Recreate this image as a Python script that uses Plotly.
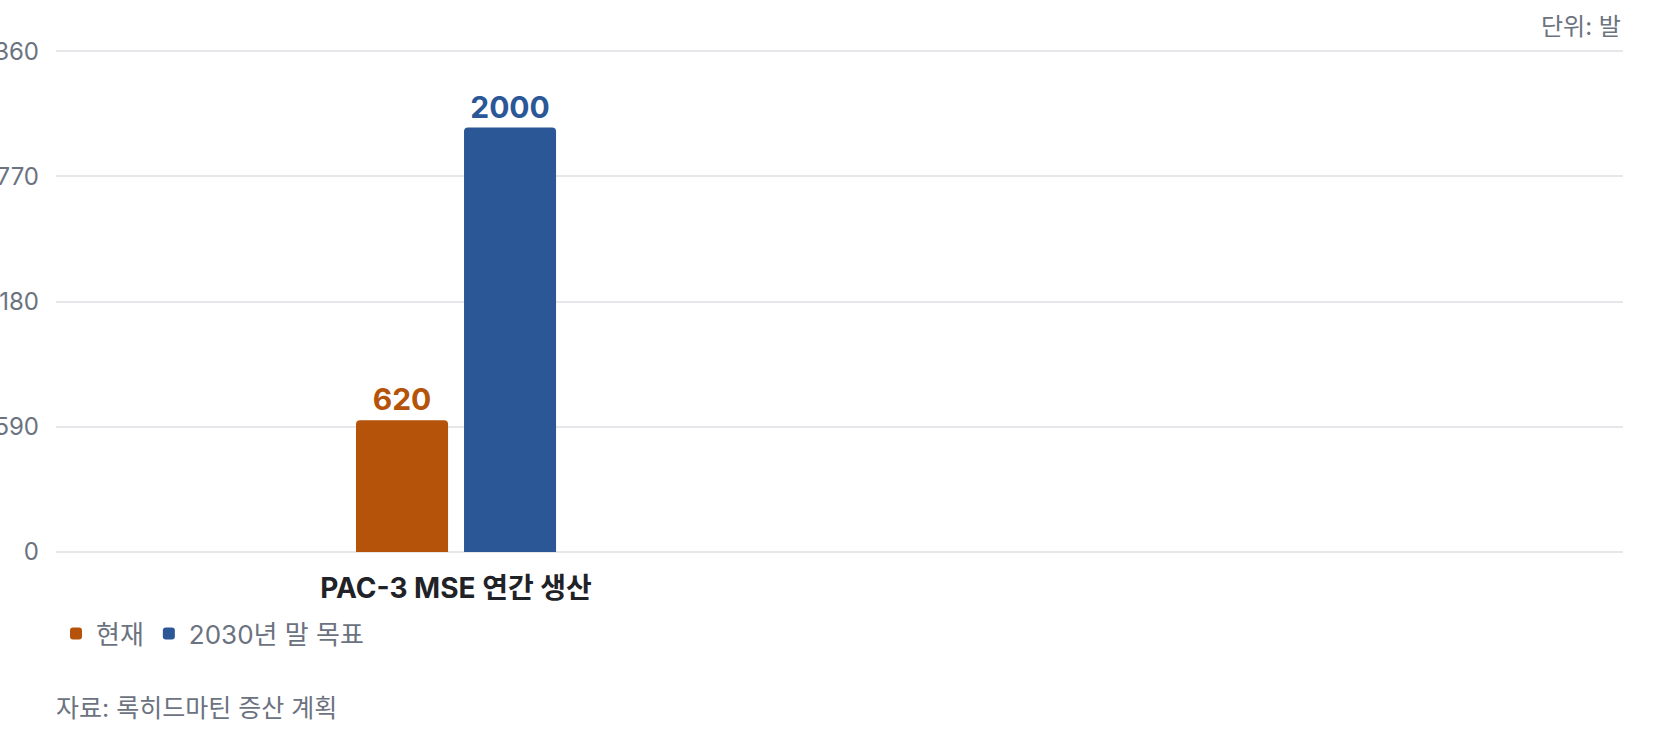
import plotly.graph_objects as go

categories = ["PAC-3 MSE 연간 생산"]
series_names = ["현재", "2030년 말 목표"]
current_values = [620]
target_values = [2000]
series_colors = ["#b45309", "#2b5797"]
y_ticks = [0, 590, 1180, 1770, 2360]
unit_label = "단위: 발"
source_label = "자료: 록히드마틴 증산 계획"

FONT = "Inter, 'Noto Sans CJK KR', sans-serif"
GRAY = "#6b7280"

fig = go.Figure()
for name, vals, color in zip(series_names, [current_values, target_values], series_colors):
    fig.add_trace(go.Bar(
        x=categories,
        y=vals,
        name=name,
        marker=dict(color=color, cornerradius=4, line=dict(width=0)),
        text=[str(v) for v in vals],
        texttemplate="%{text}",
        textposition="outside",
        textfont=dict(family=FONT, size=30, color=color, weight="bold"),
        cliponaxis=False,
        hoverinfo="skip",
    ))

fig.update_layout(
    width=1680,
    height=736,
    margin=dict(l=56, r=57, t=49, b=182, autoexpand=False),
    paper_bgcolor="white",
    plot_bgcolor="white",
    barmode="group",
    bargap=0.73,
    bargroupgap=0.148,
    font=dict(family=FONT, color=GRAY),
    showlegend=True,
    legend=dict(
        orientation="h",
        x=0,
        xanchor="left",
        y=-0.111,
        yanchor="top",
        font=dict(family=FONT, size=26, color=GRAY),
        itemclick=False,
        itemdoubleclick=False,
        traceorder="normal",
    ),
    xaxis=dict(
        type="category",
        range=[-0.5, 1.4586],
        automargin=False,
        showgrid=False,
        zeroline=False,
        showline=False,
        ticks="",
        ticklabelstandoff=15,
        tickfont=dict(family=FONT, size=28, color="#1f2328", weight="bold"),
        fixedrange=True,
    ),
    yaxis=dict(
        range=[-10, 2370],
        automargin=False,
        tickvals=y_ticks,
        ticktext=[str(t) for t in y_ticks],
        showgrid=True,
        gridcolor="#e5e7eb",
        gridwidth=1.5,
        zeroline=False,
        showline=False,
        ticks="",
        ticklabelstandoff=16,
        tickfont=dict(family=FONT, size=24, color=GRAY),
        fixedrange=True,
    ),
    annotations=[
        dict(text=unit_label, xref="paper", yref="paper", x=1, y=1.0436,
             xanchor="right", yanchor="middle", showarrow=False,
             font=dict(family=FONT, size=24, color=GRAY)),
        dict(text=source_label, xref="paper", yref="paper", x=0, y=-0.305,
             xanchor="left", yanchor="middle", showarrow=False, xshift=-2,
             font=dict(family=FONT, size=25, color=GRAY)),
    ],
)

fig.write_html(
    "out.html",
    config={"displayModeBar": False},
    post_script="document.body.style.margin='0';",
)
